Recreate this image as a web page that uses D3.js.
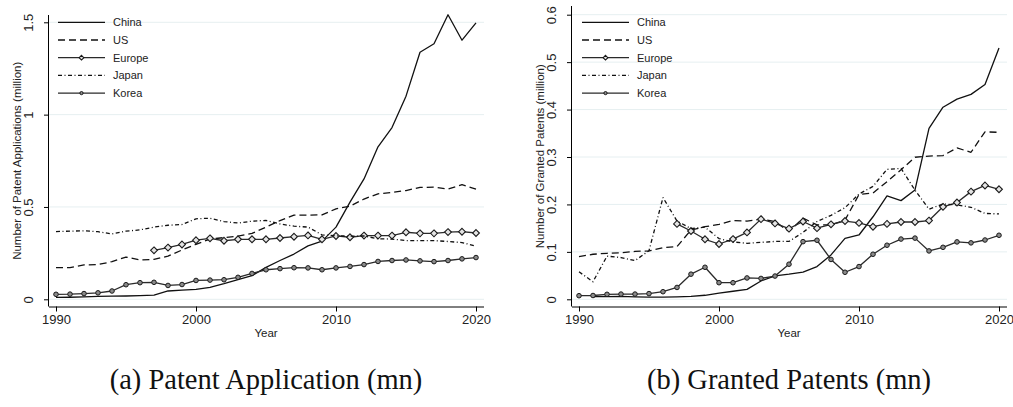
<!DOCTYPE html>
<html>
<head>
<meta charset="utf-8">
<script src="https://cdn.jsdelivr.net/npm/d3@7"></script>
<style>
  html, body { margin: 0; padding: 0; background: #fff; }
  svg { display: block; }
</style>
</head>
<body>
<svg id="chart" width="1013" height="407"></svg>
<script>
// Years on the x axis
const years = [1990,1991,1992,1993,1994,1995,1996,1997,1998,1999,2000,2001,2002,2003,2004,2005,2006,2007,2008,2009,2010,2011,2012,2013,2014,2015,2016,2017,2018,2019,2020];
const seriesNames = ["China", "US", "Europe", "Japan", "Korea"];

// Patent applications (million)
const appChina  = [0.010,0.011,0.013,0.016,0.017,0.018,0.020,0.023,0.045,0.050,0.054,0.065,0.085,0.107,0.128,0.173,0.210,0.245,0.289,0.315,0.391,0.526,0.652,0.826,0.930,1.100,1.338,1.384,1.541,1.403,1.497];
const appUS     = [0.171,0.172,0.186,0.188,0.204,0.229,0.213,0.216,0.234,0.267,0.298,0.326,0.334,0.342,0.357,0.391,0.426,0.456,0.456,0.457,0.490,0.504,0.543,0.571,0.579,0.589,0.606,0.607,0.597,0.621,0.597];
const appEurope = [null,null,null,null,null,null,null,0.265,0.280,0.297,0.320,0.330,0.317,0.325,0.325,0.325,0.332,0.339,0.346,0.325,0.343,0.336,0.345,0.345,0.345,0.363,0.357,0.357,0.364,0.366,0.359];
const appJapan  = [0.367,0.369,0.371,0.366,0.354,0.369,0.376,0.391,0.401,0.405,0.436,0.439,0.421,0.413,0.423,0.427,0.408,0.396,0.391,0.349,0.344,0.342,0.343,0.328,0.326,0.318,0.318,0.318,0.313,0.307,0.288];
const appKorea  = [0.027,0.028,0.031,0.035,0.045,0.079,0.090,0.092,0.075,0.080,0.102,0.104,0.106,0.119,0.140,0.160,0.166,0.171,0.170,0.160,0.170,0.178,0.188,0.205,0.210,0.213,0.208,0.204,0.210,0.219,0.226];

// Granted patents (million)
const grChina   = [null,0.0055,0.0055,0.006,0.005,0.0045,0.0045,0.005,0.006,0.0085,0.013,0.017,0.021,0.0386,0.0493,0.053,0.0575,0.069,0.0935,0.1286,0.1356,0.174,0.218,0.208,0.2305,0.3605,0.405,0.422,0.432,0.453,0.530];
const grUS      = [0.090,0.095,0.097,0.098,0.101,0.102,0.109,0.111,0.146,0.153,0.158,0.166,0.165,0.169,0.164,0.143,0.171,0.157,0.157,0.167,0.221,0.224,0.248,0.273,0.2995,0.302,0.303,0.319,0.310,0.353,0.352];
const grEurope  = [null,null,null,null,null,null,null,0.159,0.144,0.1265,0.1166,0.127,0.141,0.169,0.160,0.149,0.164,0.150,0.158,0.165,0.161,0.153,0.159,0.163,0.163,0.166,0.195,0.204,0.227,0.240,0.232];
const grJapan   = [0.058,0.037,0.091,0.088,0.0815,0.1025,0.2145,0.165,0.149,0.152,0.128,0.121,0.118,0.120,0.122,0.122,0.141,0.164,0.177,0.193,0.222,0.238,0.274,0.276,0.230,0.190,0.201,0.199,0.194,0.181,0.180];
const grKorea   = [0.0076,0.008,0.0105,0.011,0.011,0.012,0.016,0.025,0.053,0.0675,0.035,0.035,0.045,0.044,0.049,0.074,0.1215,0.1245,0.084,0.057,0.069,0.095,0.114,0.127,0.129,0.102,0.1096,0.121,0.119,0.125,0.135];

// Tick labels
const xTicks = [1990, 2000, 2010, 2020];
const yTicksApp = [0, 0.5, 1, 1.5];
const yTicksGr = [0, 0.1, 0.2, 0.3, 0.4, 0.5, 0.6];

// Line / marker styles per series
const styles = {
  China:  { dash: null,          color: "#111",    marker: null },
  US:     { dash: "7,4",         color: "#111",    marker: null },
  Europe: { dash: null,          color: "#2a2a2a", marker: "diamond" },
  Japan:  { dash: "4,2.5,1,2.5", color: "#111",    marker: null },
  Korea:  { dash: null,          color: "#2a2a2a", marker: "circle" }
};

const svg = d3.select("#chart");
const sans = "'Liberation Sans', Arial, Helvetica, sans-serif";

function panel(cfg) {
  const g = svg.append("g");
  const x = d3.scaleLinear().domain([1990, 2020]).range([cfg.x0, cfg.x1]);
  const y = d3.scaleLinear().domain(cfg.yDomain).range([cfg.yBottom, cfg.yTop]);

  // horizontal gridlines
  g.append("g").selectAll("line").data(cfg.yTicks).join("line")
    .attr("x1", cfg.axisX).attr("x2", cfg.gridEnd)
    .attr("y1", d => y(d)).attr("y2", d => y(d))
    .attr("stroke", "#e6eff1").attr("stroke-width", 1);

  // y axis
  const yAxis = d3.axisLeft(y).tickValues(cfg.yTicks).tickSize(5).tickFormat(d3.format("~g"));
  const ya = g.append("g").attr("transform", `translate(${cfg.axisX},0)`).call(yAxis);
  ya.select(".domain").attr("d", `M-0.5,${cfg.axisTop}V${cfg.axisBottom}`).attr("stroke", "#000");
  ya.selectAll(".tick line").attr("stroke", "#000");
  ya.selectAll(".tick text")
    .attr("font-family", sans).attr("font-size", 13).attr("fill", "#222")
    .attr("transform", "rotate(-90)")
    .attr("x", 0).attr("y", -16.5).attr("dy", 0)
    .attr("text-anchor", "middle");

  // x axis
  const xAxis = d3.axisBottom(x).tickValues(xTicks).tickSize(5).tickFormat(d3.format("d"));
  const xa = g.append("g").attr("transform", `translate(0,${cfg.axisBottom})`).call(xAxis);
  xa.select(".domain").attr("d", `M${cfg.axisX},0.5H${cfg.gridEnd}`).attr("stroke", "#000");
  xa.selectAll(".tick line").attr("stroke", "#000");
  xa.selectAll(".tick text")
    .attr("font-family", sans).attr("font-size", 13).attr("fill", "#222").attr("y", 8);

  // axis titles
  g.append("text")
    .attr("transform", `translate(${cfg.titleX},${(cfg.axisTop + cfg.axisBottom) / 2}) rotate(-90)`)
    .attr("text-anchor", "middle").attr("dy", "0.35em")
    .attr("font-family", sans).attr("font-size", 11.5).attr("fill", "#222")
    .text(cfg.yTitle);
  g.append("text")
    .attr("x", (cfg.x0 + cfg.x1) / 2).attr("y", 333).attr("dy", "0.35em")
    .attr("text-anchor", "middle")
    .attr("font-family", sans).attr("font-size", 11.5).attr("fill", "#222")
    .text("Year");

  // series
  const line = d3.line()
    .defined(d => d.v != null)
    .x(d => x(d.year)).y(d => y(d.v));

  cfg.series.forEach((vals, i) => {
    const name = seriesNames[i];
    const st = styles[name];
    const pts = years.map((yr, k) => ({ year: yr, v: vals[k] }));
    g.append("path").datum(pts)
      .attr("d", line)
      .attr("fill", "none")
      .attr("stroke", st.color)
      .attr("stroke-width", 1.3)
      .attr("stroke-linejoin", "round")
      .attr("stroke-dasharray", st.dash);
    const valid = pts.filter(d => d.v != null);
    drawMarkers(g, valid, st.marker, d => x(d.year), d => y(d.v), 1);
  });

  // legend
  const leg = g.append("g");
  seriesNames.forEach((name, i) => {
    const st = styles[name];
    const ly = cfg.legY0 + i * 17.7;
    leg.append("line")
      .attr("x1", cfg.legX).attr("x2", cfg.legX + 47)
      .attr("y1", ly).attr("y2", ly)
      .attr("stroke", st.color).attr("stroke-width", 1.3)
      .attr("stroke-dasharray", st.dash);
    if (st.marker) {
      drawMarkers(leg, [{}], st.marker, () => cfg.legX + 23.5, () => ly, 0.7);
    }
    leg.append("text")
      .attr("x", cfg.legX + 55).attr("y", ly).attr("dy", "0.35em")
      .attr("font-family", sans).attr("font-size", 11).attr("fill", "#222")
      .text(name);
  });
}

function drawMarkers(g, data, type, fx, fy, scale) {
  if (type === "diamond") {
    const r = 3.4 * scale;
    g.append("g").selectAll("path").data(data).join("path")
      .attr("d", d => `M${fx(d)},${fy(d) - r}L${fx(d) + r},${fy(d)}L${fx(d)},${fy(d) + r}L${fx(d) - r},${fy(d)}Z`)
      .attr("fill", "#e4e4e4").attr("stroke", "#1a1a1a").attr("stroke-width", 1.1);
  } else if (type === "circle") {
    g.append("g").selectAll("circle").data(data).join("circle")
      .attr("cx", fx).attr("cy", fy).attr("r", 2.3 * scale)
      .attr("fill", "#8a8a8a").attr("stroke", "#1a1a1a").attr("stroke-width", 1);
  }
}

panel({
  x0: 56, x1: 476, axisX: 49, gridEnd: 484,
  yDomain: [0, 1.5], yTop: 22.3, yBottom: 299.3,
  axisTop: 15, axisBottom: 306.5,
  yTicks: yTicksApp, titleX: 17,
  yTitle: "Number of Patent Applications (million)",
  legX: 58, legY0: 22.3,
  series: [appChina, appUS, appEurope, appJapan, appKorea]
});

panel({
  x0: 579, x1: 999, axisX: 572, gridEnd: 1007,
  yDomain: [0, 0.6], yTop: 14.7, yBottom: 299.3,
  axisTop: 6, axisBottom: 306.5,
  yTicks: yTicksGr, titleX: 540,
  yTitle: "Number of Granted Patents (million)",
  legX: 582, legY0: 22.3,
  series: [grChina, grUS, grEurope, grJapan, grKorea]
});

// captions under each panel
const serif = "'Liberation Serif', 'DejaVu Serif', serif";
svg.append("text").attr("x", 266).attr("y", 389)
  .attr("text-anchor", "middle").attr("font-family", serif).attr("font-size", 28.5).attr("fill", "#111")
  .text("(a) Patent Application (mn)");
svg.append("text").attr("x", 789).attr("y", 389)
  .attr("text-anchor", "middle").attr("font-family", serif).attr("font-size", 28.5).attr("fill", "#111")
  .text("(b) Granted Patents (mn)");
</script>
</body>
</html>
